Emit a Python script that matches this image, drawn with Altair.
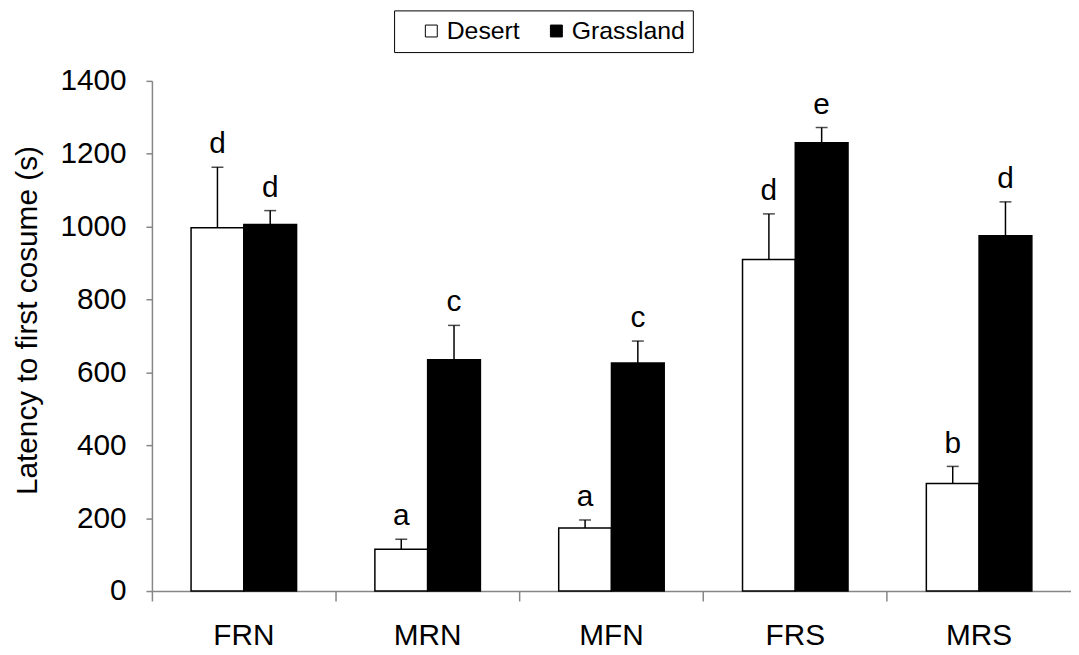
import altair as alt
import pandas as pd

categories = ["FRN", "MRN", "MFN", "FRS", "MRS"]
series = ["Desert", "Grassland"]
desert_mean = [997, 115, 173, 910, 295]
desert_err = [166, 27, 22, 125, 47]
desert_letters = ["d", "a", "a", "d", "b"]
grass_mean = [1006, 635, 626, 1230, 975]
grass_err = [38, 94, 60, 42, 93]
grass_letters = ["d", "c", "c", "e", "d"]
y_ticks = [0, 200, 400, 600, 800, 1000, 1200, 1400]
y_title = "Latency to first cosume (s)"

rows = []
for s, means, errs, lets in [
    ("Desert", desert_mean, desert_err, desert_letters),
    ("Grassland", grass_mean, grass_err, grass_letters),
]:
    for c, m, e, l in zip(categories, means, errs, lets):
        rows.append({"cat": c, "series": s, "mean": m, "top": m + e, "letter": l})
df = pd.DataFrame(rows)

FONT = "Liberation Sans"
GRAY = "#868686"

x_enc = alt.X(
    "cat:N",
    sort=categories,
    scale=alt.Scale(paddingInner=0.426, paddingOuter=0.213),
    axis=alt.Axis(
        title=None,
        bandPosition=-0.371,
        tickSize=10,
        tickColor=GRAY,
        tickWidth=1.5,
        domainColor=GRAY,
        domainWidth=1.5,
        labelFont=FONT,
        labelFontSize=30,
        labelColor="black",
        labelPadding=20,
        labelAngle=0,
    ),
)
xoff = alt.XOffset("series:N", sort=series)
yscale = alt.Scale(domain=[0, 1400], nice=False, zero=True)

base = alt.Chart(df).encode(x=x_enc, xOffset=xoff)

bars = base.mark_bar(stroke="black", strokeWidth=1.5).encode(
    y=alt.Y(
        "mean:Q",
        scale=yscale,
        title=y_title,
        axis=alt.Axis(
            values=y_ticks,
            format="d",
            grid=False,
            tickSize=6,
            tickColor=GRAY,
            tickWidth=1.5,
            domainColor=GRAY,
            domainWidth=1.5,
            labelFont=FONT,
            labelFontSize=30,
            labelColor="black",
            labelPadding=20,
            titleFont=FONT,
            titleFontSize=30,
            titleFontWeight="normal",
            titleColor="black",
            titleX=-125,
            titleY=241,
            titleAngle=-90,
            titleAlign="center",
            titleBaseline="middle",
        ),
    ),
    fill=alt.Fill(
        "series:N",
        sort=series,
        scale=alt.Scale(domain=series, range=["white", "black"]),
        legend=alt.Legend(
            title=None,
            orient="none",
            legendX=244,
            legendY=-71,
            direction="horizontal",
            symbolType="square",
            symbolSize=144,
            symbolStrokeColor="black",
            symbolStrokeWidth=1,
            labelFont=FONT,
            labelFontSize=25,
            labelColor="black",
            labelOffset=3,
            strokeColor="black",
            padding=8,
            symbolOffset=17,
            columnPadding=7,
        ),
    ),
)

err = base.mark_rule(color="black", strokeWidth=1.5).encode(
    y=alt.Y("mean:Q", scale=yscale, title=y_title),
    y2="top:Q",
)

caps = base.mark_tick(color="black", size=12, thickness=1.5).encode(
    y=alt.Y("top:Q", scale=yscale, title=y_title),
)

letters = base.mark_text(
    dy=-14, baseline="alphabetic", fontSize=30, font=FONT, color="black"
).encode(
    y=alt.Y("top:Q", scale=yscale, title=y_title),
    text="letter:N",
)

chart = (
    alt.layer(bars, err, caps, letters)
    .properties(
        width=926,
        height=514,
        padding={"left": 145, "top": 71, "right": 0, "bottom": 60},
        autosize=alt.AutoSizeParams(type="none"),
    )
    .configure_view(stroke=None)
)

chart.save("out.html", embed_options={"renderer": "svg", "actions": False})
